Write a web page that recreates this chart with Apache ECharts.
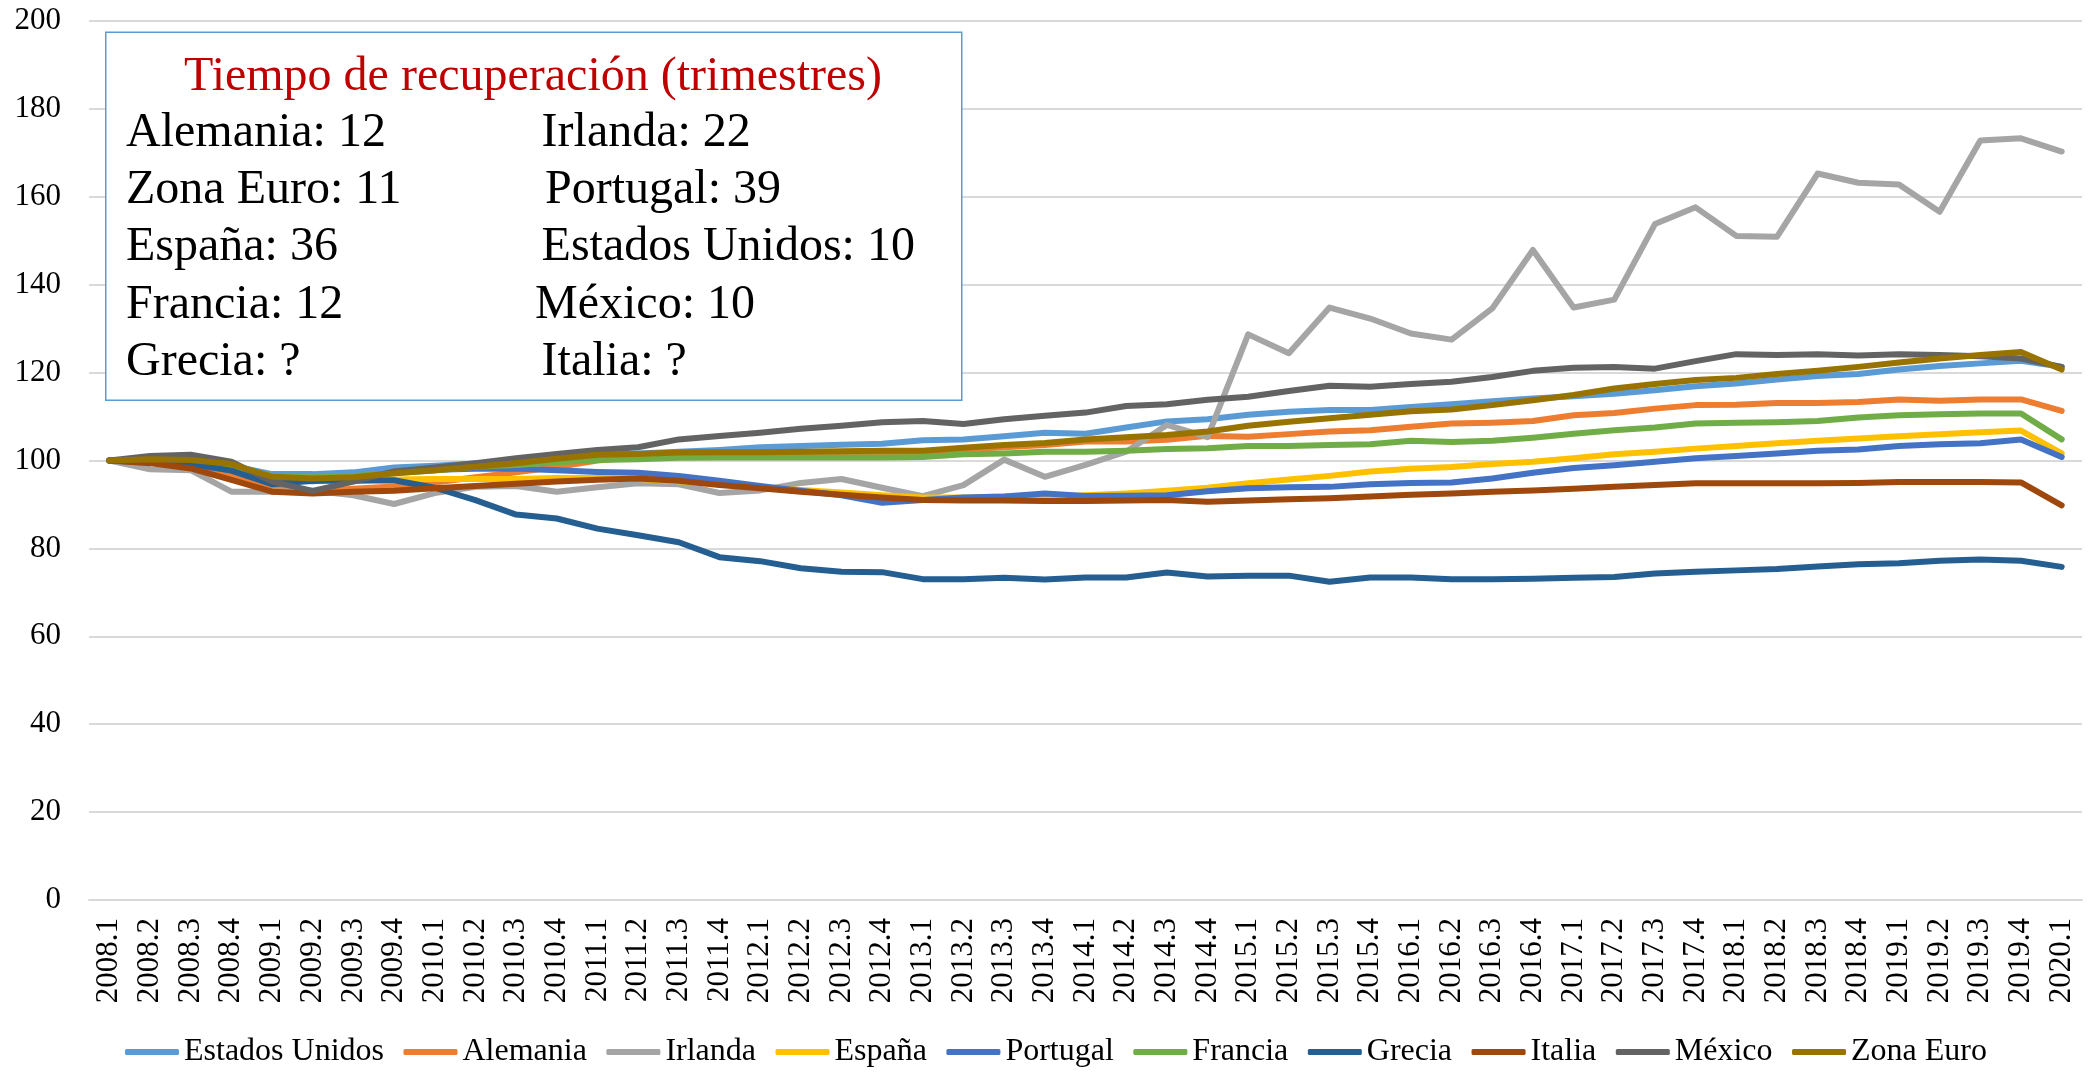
<!DOCTYPE html>
<html>
<head>
<meta charset="utf-8">
<script src="https://cdn.jsdelivr.net/npm/echarts@6/dist/echarts.min.js"></script>
<style>
html,body{margin:0;padding:0;background:#fff;}
#chart{width:2100px;height:1074px;}
</style>
</head>
<body>
<div id="chart"></div>
<script>
const categories = ['2008.1','2008.2','2008.3','2008.4','2009.1','2009.2','2009.3','2009.4','2010.1','2010.2','2010.3','2010.4','2011.1','2011.2','2011.3','2011.4','2012.1','2012.2','2012.3','2012.4','2013.1','2013.2','2013.3','2013.4','2014.1','2014.2','2014.3','2014.4','2015.1','2015.2','2015.3','2015.4','2016.1','2016.2','2016.3','2016.4','2017.1','2017.2','2017.3','2017.4','2018.1','2018.2','2018.3','2018.4','2019.1','2019.2','2019.3','2019.4','2020.1'];
const yTicks = [0,20,40,60,80,100,120,140,160,180,200];

const estadosUnidos = [100,100.2,100.0,98.8,96.9,96.9,97.3,98.4,98.8,99.3,99.8,100.5,101.3,101.6,102.0,102.4,103.0,103.3,103.6,103.8,104.6,104.8,105.5,106.3,106.1,107.5,108.9,109.4,110.4,111.1,111.5,111.5,112.2,112.8,113.5,114.1,114.6,115.2,116.0,116.9,117.5,118.4,119.2,119.7,120.7,121.5,122.1,122.7,121.3];
const alemania = [100,99.8,99.0,96.9,93.8,93.0,93.6,94.1,95.0,96.2,97.3,98.5,100.0,100.8,101.2,101.4,101.5,101.6,101.7,101.8,101.9,102.5,103.0,103.5,104.3,104.3,104.7,105.6,105.4,106.0,106.6,106.9,107.7,108.4,108.6,109.0,110.3,110.8,111.8,112.6,112.7,113.1,113.1,113.3,113.9,113.6,113.9,113.9,111.3];
const irlanda = [100,98.0,97.8,92.9,92.9,93.1,92.1,90.1,92.6,94.0,94.2,92.9,93.9,94.8,94.6,92.6,93.2,94.9,95.8,93.8,91.9,94.4,100.2,96.3,99.0,102.0,108.1,105.3,128.7,124.4,134.8,132.3,128.9,127.5,134.6,147.9,134.8,136.6,153.8,157.6,151.1,150.9,165.3,163.2,162.8,156.6,172.8,173.3,170.3];
const espana = [100,99.7,99.2,98.0,96.2,95.5,95.5,95.7,95.8,95.8,95.8,96.0,96.0,95.8,95.3,94.6,93.9,93.3,92.7,92.1,91.6,91.6,91.8,91.6,92.1,92.5,93.1,93.8,94.8,95.7,96.5,97.5,98.1,98.5,99.2,99.7,100.5,101.4,102.0,102.7,103.3,103.9,104.5,105.0,105.5,106.0,106.4,106.8,101.6];
const portugal = [100,99.6,99.0,97.8,95.5,95.3,96.2,97.2,97.9,98.1,98.2,97.8,97.4,97.2,96.5,95.4,94.2,93.1,92.1,90.4,91.0,91.6,91.8,92.5,91.9,92.0,92.1,93.0,93.7,93.9,94.0,94.6,94.9,95.0,95.9,97.2,98.3,98.9,99.7,100.5,101.0,101.6,102.2,102.5,103.3,103.7,103.9,104.8,100.8];
const francia = [100,99.8,99.5,98.5,96.5,96.3,96.5,97.1,97.7,98.6,99.0,99.6,100.1,100.3,100.6,100.7,100.7,100.7,100.7,100.7,100.8,101.4,101.6,102.0,102.0,102.2,102.6,102.8,103.3,103.3,103.5,103.7,104.5,104.2,104.5,105.2,106.1,106.9,107.5,108.4,108.6,108.7,109.0,109.8,110.3,110.5,110.7,110.7,104.8];
const grecia = [100,99.6,99.3,97.7,94.6,95.4,95.4,95.5,93.8,91.0,87.7,86.8,84.5,83.0,81.4,78.0,77.1,75.5,74.7,74.6,73.0,73.0,73.3,72.9,73.4,73.4,74.5,73.6,73.8,73.8,72.4,73.4,73.4,73.0,73.0,73.1,73.3,73.5,74.3,74.7,75.0,75.3,75.9,76.4,76.6,77.2,77.5,77.2,75.8];
const italia = [100,99.4,98.2,95.6,92.9,92.5,92.9,93.1,93.7,94.2,94.7,95.2,95.6,95.9,95.4,94.4,93.7,92.9,92.2,91.6,91.0,90.9,90.9,90.8,90.8,90.9,91.0,90.6,90.9,91.2,91.4,91.8,92.2,92.5,92.9,93.2,93.6,94.0,94.4,94.8,94.8,94.8,94.8,94.9,95.1,95.1,95.1,95.0,89.8];
const mexico = [100,101.0,101.3,99.7,95.2,93.1,95.2,97.5,98.4,99.4,100.5,101.5,102.4,103.0,104.8,105.6,106.3,107.2,107.9,108.7,109.0,108.3,109.4,110.2,110.9,112.4,112.8,113.8,114.5,115.8,117.0,116.8,117.4,117.9,119.0,120.4,121.1,121.3,120.9,122.6,124.2,124.0,124.2,123.9,124.2,124.0,123.7,123.2,121.3];
const zonaEuro = [100,100.3,100.1,99.2,96.3,95.9,96.2,97.1,97.8,98.6,99.4,100.4,101.3,101.5,101.8,101.9,101.9,102.0,102.1,102.2,102.2,102.9,103.5,104.0,104.8,105.3,105.8,106.6,107.9,108.8,109.6,110.4,111.2,111.6,112.6,113.7,114.9,116.4,117.4,118.3,118.8,119.7,120.4,121.3,122.3,123.2,124.0,124.7,120.7];

const seriesNames = ['Estados Unidos','Alemania','Irlanda','España','Portugal','Francia','Grecia','Italia','México','Zona Euro'];
const seriesData = [estadosUnidos,alemania,irlanda,espana,portugal,francia,grecia,italia,mexico,zonaEuro];
const seriesColors = ['#5B9BD5','#ED7D31','#A5A5A5','#FFC000','#4472C4','#70AD47','#255E91','#9E480E','#636363','#997300'];

const boxTitle = 'Tiempo de recuperación (trimestres)';
const boxLeft = ['Alemania: 12','Zona Euro: 11','España: 36','Francia: 12','Grecia: ?'];
const boxRight = ['Irlanda: 22','Portugal: 39','Estados Unidos: 10','México: 10','Italia: ?'];

const FONT = "'Liberation Serif','Times New Roman',serif";
const chart = echarts.init(document.getElementById('chart'), null, {renderer:'canvas'});

const lineMids = [133.5,190.5,247.5,305.5,362.5];
const rightX = [541.6,545,541.6,535,541.6];
const graphics = [
  {type:'rect', left:105, top:31.5, shape:{x:0,y:0,width:856,height:368}, style:{fill:'#fff',stroke:'#5B9BD5',lineWidth:1.5}, z:100},
  {type:'text', x:533, y:77, style:{text:boxTitle, fill:'#C00000', font:'48px '+FONT, textAlign:'center', textVerticalAlign:'middle'}, z:101}
];
boxLeft.forEach((t,k)=>graphics.push({type:'text', x:126, y:lineMids[k], style:{text:t, fill:'#000', font:'48px '+FONT, textAlign:'left', textVerticalAlign:'middle'}, z:101}));
boxRight.forEach((t,k)=>graphics.push({type:'text', x:rightX[k], y:lineMids[k], style:{text:t, fill:'#000', font:'48px '+FONT, textAlign:'left', textVerticalAlign:'middle'}, z:101}));

chart.setOption({
  animation:false,
  backgroundColor:'#fff',
  grid:{left:89, right:18, top:21, bottom:174},
  legend:{
    data:seriesNames, left:120, top:1030, icon:'roundRect', itemWidth:54, itemHeight:6, itemGap:19.5,
    textStyle:{fontFamily:FONT, fontSize:32, color:'#000', lineHeight:34}
  },
  xAxis:{
    type:'category', data:categories, boundaryGap:true,
    axisLine:{show:true, lineStyle:{color:'#D9D9D9', width:2}},
    axisTick:{show:false},
    axisLabel:{rotate:90, interval:0, margin:18, fontFamily:FONT, fontSize:31, color:'#000'}
  },
  yAxis:{
    type:'value', min:yTicks[0], max:yTicks[yTicks.length-1], interval:yTicks[1]-yTicks[0],
    axisLine:{show:false}, axisTick:{show:false},
    splitLine:{lineStyle:{color:'#D9D9D9', width:2}},
    axisLabel:{margin:28, fontFamily:FONT, fontSize:31, color:'#000'}
  },
  graphic:graphics,
  series:seriesNames.map((n,k)=>({
    name:n, type:'line', data:seriesData[k], showSymbol:false, symbol:'none',
    color:seriesColors[k],
    lineStyle:{width:6, color:seriesColors[k], cap:'round', join:'round'},
    itemStyle:{color:seriesColors[k]}
  }))
});
</script>
</body>
</html>
